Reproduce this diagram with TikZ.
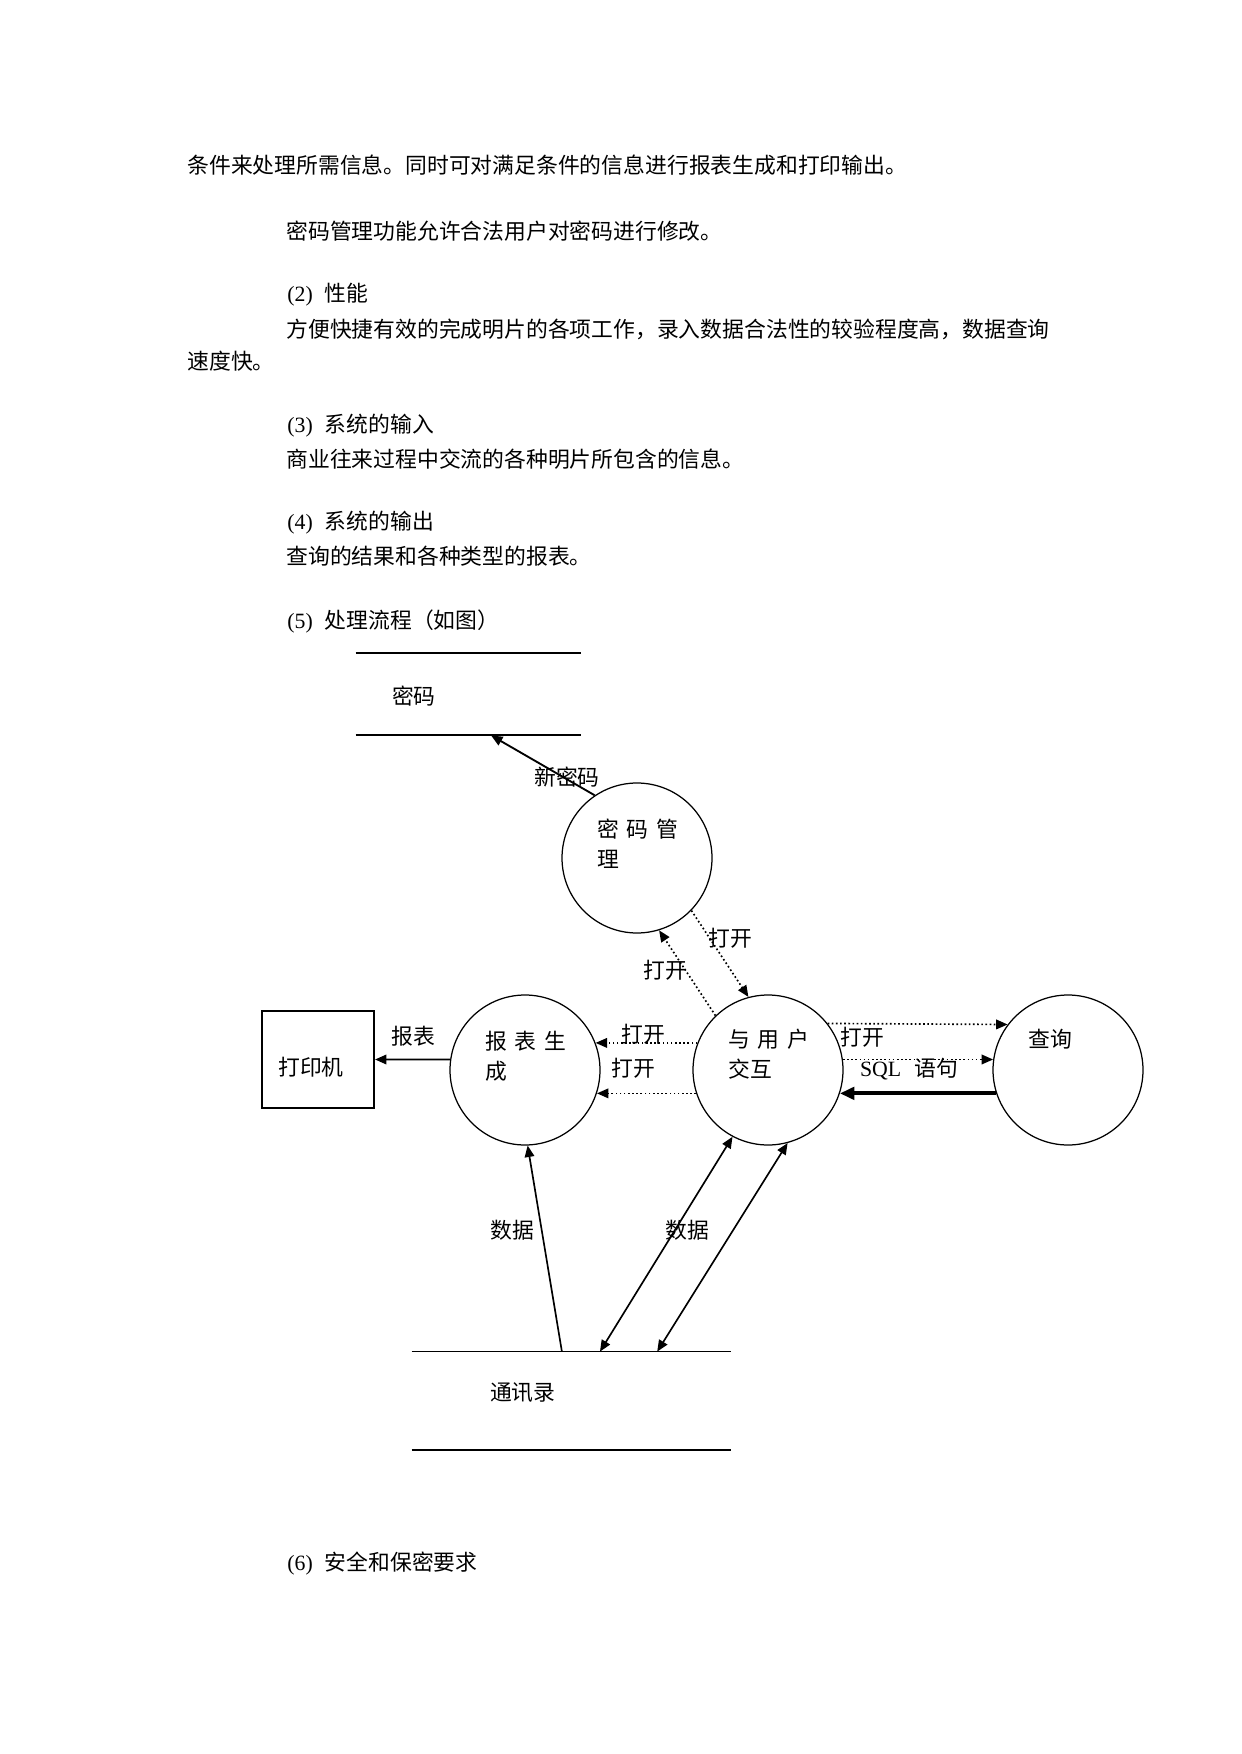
\documentclass[tikz,border=0pt]{standalone}
\usepackage{fontspec}
\setmainfont{Liberation Serif}
\newfontfamily\cjk{Noto Sans CJK SC}
\usetikzlibrary{calc,arrows.meta}
\newcommand\gap{\hspace{0.35em}}	%spacing of letters in the circles

\tikzset{
	txt/.style={font=\cjk\fontsize{10.5}{14.4}\selectfont, inner sep=0pt},
	para/.style={txt, anchor=west},
	proc/.style={circle, draw, line width=0.6pt, minimum size=25.38mm, inner sep=0pt},
	ptext/.style={txt, anchor=north west, align=left},
	store/.style={inner sep=0pt},
	device/.style={draw, line width=1pt, minimum width=18.95mm, minimum height=16.41mm},
	flow/.style={-{Triangle[length=5.5pt,width=4.6pt]}, line width=0.9pt},
	dflow/.style={{Triangle[length=5.5pt,width=4.6pt]}-{Triangle[length=5.5pt,width=4.6pt]}, line width=0.8pt},
	dotflow/.style={-{Triangle[length=5.5pt,width=4.6pt]}, line width=0.8pt, dash pattern=on 0.8pt off 1.2pt},
}

\begin{document}
\begin{tikzpicture}[x=0.16922mm, y=-0.16922mm]
	\useasboundingbox (0,0) rectangle (1241,1754);

	%body text
	\node[para] (p1) at (187,165) {条件来处理所需信息。同时可对满足条件的信息进行报表生成和打印输出。};
	\node[para] (p2) at (286,231) {密码管理功能允许合法用户对密码进行修改。};
	\node[para] (h2) at (287,295) {{\rmfamily (2)}\hspace{0.55em}性能};
	\node[para] (p3) at (286,329) {方便快捷有效的完成明片的各项工作，录入数据合法性的较验程度高，数据查询};
	\node[para] (p4) at (187,361) {速度快。};
	\node[para] (h3) at (287,426) {{\rmfamily (3)}\hspace{0.55em}系统的输入};
	\node[para] (p5) at (286,459) {商业往来过程中交流的各种明片所包含的信息。};
	\node[para] (h4) at (287,523) {{\rmfamily (4)}\hspace{0.55em}系统的输出};
	\node[para] (p6) at (286,556) {查询的结果和各种类型的报表。};
	\node[para] (h5) at (287,621) {{\rmfamily (5)}\hspace{0.55em}处理流程（如图）};
	\node[para] (h6) at (287,1564) {{\rmfamily (6)}\hspace{0.55em}安全和保密要求};

	%data stores
	\node[store, minimum width=38.07mm, minimum height=13.88mm] (pwd) at (468.5,694) {};
	\draw[line width=1pt] (pwd.north west) -- (pwd.north east);		%top line
	\draw[line width=1pt] (pwd.south west) -- (pwd.south east);		%bottom line
	\node[txt, anchor=west] (pwdlbl) at ($(pwd.west)+(36,2)$) {密码};
	%
	\node[store, minimum width=53.98mm, minimum height=16.58mm] (contacts) at (571.5,1401) {};
	\draw[line width=0.5pt] (contacts.north west) -- (contacts.north east);
	\draw[line width=1pt] (contacts.south west) -- (contacts.south east);
	\node[txt, anchor=west] (contactslbl) at ($(contacts.west)+(78,-8)$) {通讯录};

	%printer
	\node[device] (printer) at (318,1059.5) {};
	\node[txt] (printerlbl) at ($(printer)+(-7,8)$) {打印机};

	%processes
	\node[proc] (pwdmgr) at (637,858) {};
	\node[proc] (report) at (525,1070) {};
	\node[proc] (users) at (768,1070) {};
	\node[proc] (query) at (1068,1070) {};
	\node[ptext] (pwdmgrlbl) at ($(pwdmgr)+(-40,-39)$) {密\gap 码\gap 管\\理};
	\node[ptext] (reportlbl) at ($(report)+(-40,-39)$) {报\gap 表\gap 生\\成};
	\node[ptext] (userslbl) at ($(users)+(-40,-41)$) {与\gap 用\gap 户\\交互};
	\node[ptext] (querylbl) at ($(query)+(-40,-41)$) {查询};

	%flows
	\coordinate (pwdin) at ($(pwd.south west)!0.6!(pwd.south east)$);
	\coordinate (cout1) at ($(contacts.north west)!0.47!(contacts.north east)$);
	\coordinate (cout2) at ($(contacts.north west)!0.589!(contacts.north east)$);
	\coordinate (cout3) at ($(contacts.north west)!0.768!(contacts.north east)$);
	\draw[flow] (pwdmgr.124) -- (pwdin);				%new password
	\draw[flow] (report.172) -- (printer.east);		%report
	\draw[dotflow] (users.134) -- (pwdmgr.-73);
	\draw[dotflow] (pwdmgr.-44) -- (users.105);
	\draw[dotflow] (users.159) -- (report.21);
	\draw[dotflow] (users.198) -- (report.-18);
	\draw[dotflow] (users.38) -- (query.143);
	\draw[dotflow] (users.8) -- (query.172);
	\draw[-{Triangle[length=7pt,width=6pt]}, line width=2pt] (query.198) -- (users.-18);	%result
	\draw[flow, line width=0.8pt] (cout1) -- (report.-88);
	\draw[dflow] (cout2) -- (users.242);
	\draw[dflow] (cout3) -- (users.-75);

	%flow labels
	\node[txt] (lnew) at (567,777) {新密码};
	\node[txt] (lopen1) at (730,938) {打开};
	\node[txt] (lopen2) at (665,970) {打开};
	\node[txt] (lrep) at (413,1036) {报表};
	\node[txt] (lopen3) at (643,1034) {打开};
	\node[txt] (lopen4) at (633,1068) {打开};
	\node[txt] (lopen5) at (862,1037) {打开};
	\node[txt] (lsql) at (909,1069) {{\rmfamily SQL}\hspace{0.6em}语句};
	\node[txt] (ldata1) at (512,1230) {数据};
	\node[txt] (ldata2) at (687,1230) {数据};
\end{tikzpicture}
\end{document}
